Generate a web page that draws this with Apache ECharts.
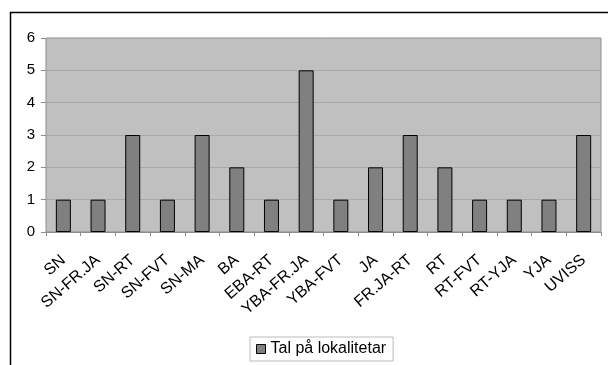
<!DOCTYPE html>
<html>
<head>
<meta charset="utf-8">
<script src="https://cdn.jsdelivr.net/npm/echarts@6/dist/echarts.min.js"></script>
<style>html,body{margin:0;padding:0;background:#fff;}#c{width:608px;height:365px;}</style>
</head>
<body>
<div id="c"></div>
<script>
var categories = ['SN','SN-FR.JA','SN-RT','SN-FVT','SN-MA','BA','EBA-RT','YBA-FR.JA','YBA-FVT','JA','FR.JA-RT','RT','RT-FVT','RT-YJA','YJA','UVISS'];
var values = [1,1,3,1,3,2,1,5,1,2,3,2,1,1,1,3];
var seriesName = 'Tal på lokalitetar';
var yTicks = [0,1,2,3,4,5,6];

var chart = echarts.init(document.getElementById('c'), null, {renderer:'canvas'});
chart.setOption({
  animation: false,
  textStyle: {fontFamily: 'Liberation Sans, Arial, sans-serif'},
  graphic: [
    {type:'line', shape:{x1:10, y1:12.5, x2:608, y2:12.5}, style:{stroke:'#000', lineWidth:1.5}},
    {type:'line', shape:{x1:10.5, y1:12, x2:10.5, y2:365}, style:{stroke:'#000', lineWidth:1.5}}
  ],
  grid: {left:46, top:38, right:7, bottom:133, show:true, backgroundColor:'#c0c0c0', borderColor:'#8c8c8c', borderWidth:1},
  legend: {
    data:[seriesName], left:250, top:337, icon:'rect', itemWidth:9, itemHeight:9, itemGap:5,
    backgroundColor:'#fff', borderColor:'#bbb', borderWidth:1, padding:[4,7,4,6],
    itemStyle:{color:'#808080', borderColor:'#000', borderWidth:1},
    textStyle:{fontSize:16, color:'#000', fontFamily:'Liberation Sans, Arial, sans-serif'}
  },
  xAxis: {
    type:'category', data:categories,
    axisLine:{lineStyle:{color:'#8c8c8c'}},
    axisTick:{show:true, alignWithLabel:false, length:4, lineStyle:{color:'#8c8c8c'}},
    axisLabel:{rotate:41, interval:0, fontSize:16, color:'#000', margin:26}
  },
  yAxis: {
    type:'value', min:yTicks[0], max:yTicks[yTicks.length-1], interval:1,
    axisLine:{show:false},
    axisTick:{show:true, length:5, lineStyle:{color:'#8c8c8c'}},
    splitLine:{lineStyle:{color:'#a8a8a8', width:1}},
    axisLabel:{fontSize:15, color:'#000', margin:11}
  },
  series: [{
    name: seriesName, type:'bar', data:values, barWidth:15,
    itemStyle:{color:'#808080', borderColor:'#000', borderWidth:1}
  }]
});
</script>
</body>
</html>
